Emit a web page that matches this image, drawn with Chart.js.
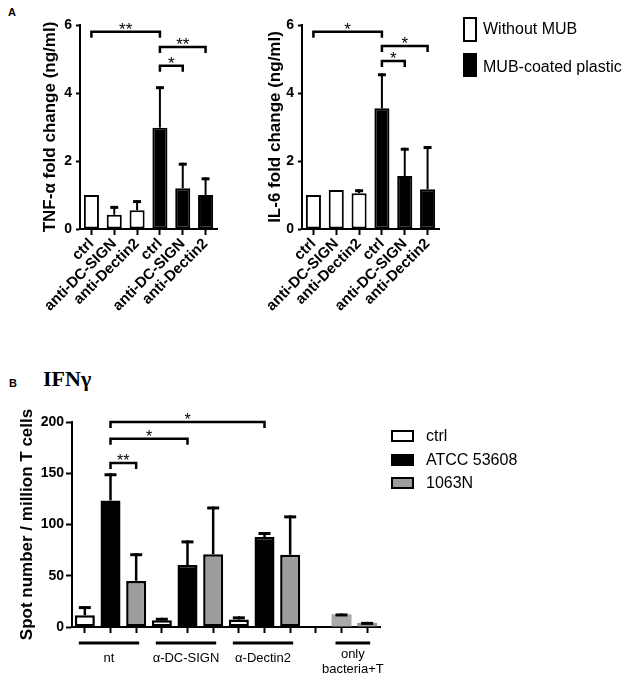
<!DOCTYPE html>
<html><head><meta charset="utf-8">
<script src="https://cdn.jsdelivr.net/npm/chart.js@4.4.1/dist/chart.umd.min.js"></script>
<style>
body{margin:0;width:630px;height:676px;position:relative;background:#fff;font-family:"Liberation Sans",Arial,sans-serif;overflow:hidden;color:#000}
.abs{position:absolute}
canvas{position:absolute}
.lg{position:absolute;font-size:16px;line-height:20px;white-space:nowrap}
.sw{position:absolute;box-sizing:border-box;border:2.5px solid #000}
</style></head><body>
<div class="abs" style="left:8px;top:6px;font-weight:bold;font-size:11px">A</div>
<div class="abs" style="left:9px;top:377px;font-weight:bold;font-size:11px">B</div>
<div class="abs" style="left:43px;top:366px;font-family:'Liberation Serif','DejaVu Serif',serif;font-weight:bold;font-size:22px">IFNγ</div>

<canvas id="c1" width="250" height="330" style="left:0;top:0"></canvas>
<canvas id="c2" width="250" height="330" style="left:222px;top:0"></canvas>
<canvas id="c3" width="400" height="316" style="left:0;top:360px"></canvas>

<div class="sw" style="left:463px;top:17px;width:14px;height:25px;background:#fff"></div>
<div class="lg" style="left:483px;top:19px">Without MUB</div>
<div class="sw" style="left:463px;top:53px;width:14px;height:24px;background:#000"></div>
<div class="lg" style="left:483px;top:57px">MUB-coated plastic</div>

<div class="sw" style="left:391px;top:430px;width:23px;height:12px;background:#fff"></div>
<div class="lg" style="left:426px;top:426px">ctrl</div>
<div class="sw" style="left:391px;top:454px;width:23px;height:12px;background:#000"></div>
<div class="lg" style="left:426px;top:450px">ATCC 53608</div>
<div class="sw" style="left:391px;top:477px;width:23px;height:12px;background:#9c9c9c"></div>
<div class="lg" style="left:426px;top:473px">1063N</div>

<script>
// ---------- DATA ----------
const aLabels = ['ctrl','anti-DC-SIGN','anti-Dectin2','ctrl','anti-DC-SIGN','anti-Dectin2'];
// TNF-alpha
const tnfWithout = [1.0, 0.42, 0.55, null, null, null];
const tnfWithoutSD = [0, 0.26, 0.30, null, null, null];
const tnfMUB = [null, null, null, 2.98, 1.20, 1.00];
const tnfMUBSD = [null, null, null, 1.22, 0.75, 0.52];
const tnfBrackets = [
  {from:0, to:3, y:5.8, text:'**'},
  {from:3, to:5, y:5.35, text:'**'},
  {from:3, to:4, y:4.8, text:'*'}
];
// IL-6
const il6Without = [1.0, 1.15, 1.05, null, null, null];
const il6WithoutSD = [0, 0, 0.12, null, null, null];
const il6MUB = [null, null, null, 3.55, 1.56, 1.17];
const il6MUBSD = [null, null, null, 1.03, 0.83, 1.27];
const il6Brackets = [
  {from:0, to:3, y:5.8, text:'*'},
  {from:3, to:5, y:5.38, text:'*'},
  {from:3, to:4, y:4.94, text:'*'}
];
const aTicks = [0, 2, 4, 6];

// IFN-gamma
const bCategories = ['nt ctrl','nt ATCC 53608','nt 1063N',
  'α-DC-SIGN ctrl','α-DC-SIGN ATCC 53608','α-DC-SIGN 1063N',
  'α-Dectin2 ctrl','α-Dectin2 ATCC 53608','α-Dectin2 1063N',
  '', 'only bacteria ATCC 53608','only bacteria 1063N'];
const bCtrl     = [11.4, null, null, 6.5, null, null, 7.2, null, null, null, null, null];
const bCtrlSD   = [9.0, null, null, 2.5, null, null, 3.2, null, null, null, null, null];
const bATCC     = [null, 123.5, null, null, 60.5, null, null, 87.7, null, null, null, null];
const bATCCSD   = [null, 26.5, null, null, 24.0, null, null, 5.0, null, null, null, null];
const b1063N    = [null, null, 45.0, null, null, 71.0, null, null, 70.5, null, null, null];
const b1063NSD  = [null, null, 27.0, null, null, 46.6, null, null, 38.4, null, null, null];
const bOnly     = [null, null, null, null, null, null, null, null, null, null, 12.4, 4.0];
const bOnlySD   = [null, null, null, null, null, null, null, null, null, null, 0.8, 1.0];
const bBrackets = [
  {from:1, to:2, y:160, text:'**'},
  {from:1, to:4, y:183.6, text:'*'},
  {from:1, to:7, y:200, text:'*'}
];
const bGroups = [
  {label:['nt'], first:0, last:2},
  {label:['α-DC-SIGN'], first:3, last:5},
  {label:['α-Dectin2'], first:6, last:8},
  {label:['only','bacteria+T'], first:10, last:11}
];
const bTicks = [0, 50, 100, 150, 200];

// ---------- RENDERING ----------
const F = "'Liberation Sans', Arial, sans-serif";

const annot = {
  id: 'annot',
  afterDatasetsDraw(chart, args, o) {
    const {ctx, scales: {x, y}} = chart;
    ctx.save();
    ctx.strokeStyle = '#000'; ctx.fillStyle = '#000'; ctx.lineCap = 'butt';
    chart.data.datasets.forEach((ds, di) => {
      if (!ds.errors) return;
      const meta = chart.getDatasetMeta(di);
      ds.data.forEach((v, i) => {
        const e = ds.errors[i];
        if (v == null || !e) return;
        const px = meta.data[i].x;
        const y0 = y.getPixelForValue(v), y1 = y.getPixelForValue(v + e);
        ctx.lineWidth = o.errLine;
        ctx.beginPath(); ctx.moveTo(px, y0); ctx.lineTo(px, y1); ctx.stroke();
        ctx.lineWidth = o.capThick;
        ctx.beginPath(); ctx.moveTo(px - o.capHalf, y1 + o.capThick / 2); ctx.lineTo(px + o.capHalf, y1 + o.capThick / 2); ctx.stroke();
      });
    });
    (o.brackets || []).forEach(b => {
      const xa = x.getPixelForValue(b.from), xb = x.getPixelForValue(b.to), yy = y.getPixelForValue(b.y);
      ctx.lineWidth = o.brLine;
      ctx.beginPath(); ctx.moveTo(xa, yy + o.drop); ctx.lineTo(xa, yy); ctx.lineTo(xb, yy); ctx.lineTo(xb, yy + o.drop); ctx.stroke();
      ctx.font = o.starFont; ctx.textAlign = 'center'; ctx.textBaseline = 'alphabetic';
      ctx.fillText(b.text, (xa + xb) / 2, yy + o.starDy);
    });
    (o.groups || []).forEach(g => {
      const xa = x.getPixelForValue(g.first) - 6, xb = x.getPixelForValue(g.last) + 3;
      const base = chart.chartArea.bottom;
      ctx.lineWidth = 3;
      ctx.beginPath(); ctx.moveTo(xa, base + 16); ctx.lineTo(xb, base + 16); ctx.stroke();
      ctx.font = "13px " + F; ctx.textAlign = 'center'; ctx.textBaseline = 'middle';
      const n = g.label.length;
      g.label.forEach((t, k) => {
        const yy = n === 1 ? base + 31 : base + 27 + k * 15;
        ctx.fillText(t, (xa + xb) / 2, yy);
      });
    });
    ctx.restore();
  }
};

function yAxis(max, ticks, title, titlePad, width, tickLen, tickPad) {
  return {
    min: 0, max: max,
    afterBuildTicks(s) { s.ticks = ticks.map(v => ({value: v})); },
    afterFit(s) { s.width = width; },
    border: {color: '#000', width: 2},
    grid: {display: true, drawOnChartArea: false, tickLength: tickLen, tickWidth: 2, tickColor: '#000'},
    ticks: {color: '#000', font: {family: F, size: 14, weight: 'bold'}, padding: tickPad},
    title: {display: true, text: title, color: '#000', font: {family: F, size: 17, weight: 'bold'}, padding: {top: titlePad, bottom: 0}}
  };
}

function makeA(id, w, wSD, m, mSD, brackets, title, titlePad) {
  new Chart(document.getElementById(id), {
    type: 'bar',
    data: {
      labels: aLabels,
      datasets: [
        {label: 'Without MUB', data: w, errors: wSD, backgroundColor: '#fff'},
        {label: 'MUB-coated plastic', data: m, errors: mSD, backgroundColor: '#000'}
      ]
    },
    options: {
      responsive: false, animation: false,
      layout: {padding: {top: 25, right: 33, left: 0, bottom: 0}},
      datasets: {bar: {grouped: false, categoryPercentage: 1, barPercentage: 0.66, borderWidth: 2, borderColor: '#000', borderSkipped: false}},
      plugins: {
        legend: {display: false}, tooltip: {enabled: false},
        annot: {brackets: brackets, errLine: 2, capThick: 3, capHalf: 4, brLine: 2.5, drop: 6, starFont: "17px " + F, starDy: 3}
      },
      scales: {
        x: {
          afterFit(s) { s.height = 101; },
          border: {color: '#000', width: 2},
          grid: {display: true, drawOnChartArea: false, offset: false, tickLength: 6, tickWidth: 2, tickColor: '#000'},
          ticks: {color: '#000', font: {family: F, size: 15, weight: 'bold'}, minRotation: 45, maxRotation: 45, autoSkip: false, padding: 0}
        },
        y: yAxis(6, aTicks, title, titlePad, 80, 4, 4)
      }
    },
    plugins: [annot]
  });
}

makeA('c1', tnfWithout, tnfWithoutSD, tnfMUB, tnfMUBSD, tnfBrackets, 'TNF-α fold change (ng/ml)', 40);
makeA('c2', il6Without, il6WithoutSD, il6MUB, il6MUBSD, il6Brackets, 'IL-6 fold change (ng/ml)', 43);

const by = yAxis(200, bTicks, 'Spot number / million T cells', 17, 72, 6, 2);
new Chart(document.getElementById('c3'), {
  type: 'bar',
  data: {
    labels: bCategories,
    datasets: [
      {label: 'ctrl', data: bCtrl, errors: bCtrlSD, backgroundColor: '#fff', borderColor: '#000', borderWidth: 2.5},
      {label: 'ATCC 53608', data: bATCC, errors: bATCCSD, backgroundColor: '#000', borderColor: '#000', borderWidth: 2.5},
      {label: '1063N', data: b1063N, errors: b1063NSD, backgroundColor: '#9c9c9c', borderColor: '#000', borderWidth: 2.5},
      {label: 'only bacteria+T', data: bOnly, errors: bOnlySD, backgroundColor: ['#a8a8a8','#a8a8a8','#a8a8a8','#a8a8a8','#a8a8a8','#a8a8a8','#a8a8a8','#a8a8a8','#a8a8a8','#a8a8a8','#a9a9a9','#959595'], borderWidth: 0}
    ]
  },
  options: {
    responsive: false, animation: false,
    layout: {padding: {top: 62, right: 20, left: 0, bottom: 0}},
    datasets: {bar: {grouped: false, categoryPercentage: 1, barPercentage: 0.78, borderSkipped: false}},
    plugins: {
      legend: {display: false}, tooltip: {enabled: false},
      annot: {brackets: bBrackets, groups: bGroups, errLine: 2.5, capThick: 3, capHalf: 6, brLine: 2.5, drop: 6, starFont: "16px " + F, starDy: 3}
    },
    scales: {
      x: {
        afterFit(s) { s.height = 49; },
        border: {color: '#000', width: 2},
        grid: {display: true, drawOnChartArea: false, offset: false, tickLength: 6, tickWidth: 2, tickColor: '#000'},
        ticks: {display: false, autoSkip: false}
      },
      y: by
    }
  },
  plugins: [annot]
});
</script>
</body></html>
